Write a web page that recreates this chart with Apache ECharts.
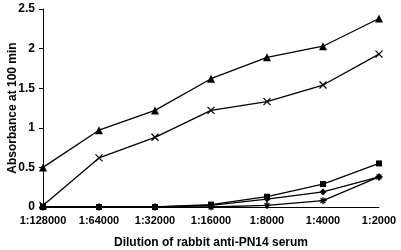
<!DOCTYPE html>
<html>
<head>
<meta charset="utf-8">
<script src="https://cdn.jsdelivr.net/npm/echarts@6/dist/echarts.min.js"></script>
<style>
html, body { margin: 0; padding: 0; background: #fff; }
#chart { width: 401px; height: 250px; }
</style>
</head>
<body>
<div id="chart"></div>
<script>
var dilutions = ['1:128000', '1:64000', '1:32000', '1:16000', '1:8000', '1:4000', '1:2000'];
var triangleData = [0.50, 0.97, 1.22, 1.62, 1.89, 2.03, 2.38];
var crossData = [0.02, 0.62, 0.88, 1.22, 1.33, 1.54, 1.93];
var squareData = [0, 0, 0, 0.03, 0.13, 0.29, 0.55];
var diamondData = [0, 0, 0, 0.02, 0.10, 0.19, 0.38];
var starData = [0, 0, 0, 0, 0.02, 0.08, 0.38];

var font = 'Liberation Sans, Arial, sans-serif';
var crossPath = 'path://M0,0L10,10M10,0L0,10';
var starPath = 'path://M5,0L5,10M0,5L10,5M1.5,1.5L8.5,8.5M8.5,1.5L1.5,8.5';

function makeSeries(data, symbol, size, stroked) {
    return {
        type: 'line',
        data: data,
        symbol: symbol,
        symbolSize: size,
        showAllSymbol: true,
        lineStyle: { color: '#000', width: 1.3 },
        itemStyle: stroked
            ? { color: 'rgba(0,0,0,0)', borderColor: '#000', borderWidth: 1.3 }
            : { color: '#000', borderWidth: 0 },
        animation: false
    };
}

var chart = echarts.init(document.getElementById('chart'));
var option = {
    backgroundColor: '#fff',
    grid: { left: 43, right: 22, top: 9, bottom: 43, outerBoundsMode: 'none', containLabel: false },
    xAxis: {
        type: 'category',
        data: dilutions,
        boundaryGap: false,
        name: 'Dilution of rabbit anti-PN14 serum',
        nameLocation: 'middle',
        nameGap: 30,
        nameMoveOverlap: false,
        nameTextStyle: { color: '#000', fontFamily: font, fontWeight: 'bold', fontSize: 12 },
        axisLine: { lineStyle: { color: '#000', width: 1 } },
        axisTick: { show: false },
        axisLabel: { color: '#000', fontFamily: font, fontWeight: 'bold', fontSize: 11, margin: 8, interval: 0 },
        splitLine: { show: false }
    },
    yAxis: {
        type: 'value',
        min: 0,
        max: 2.5,
        interval: 0.5,
        name: 'Absorbance at 100 min',
        nameLocation: 'middle',
        nameGap: 24,
        nameMoveOverlap: false,
        nameTextStyle: { color: '#000', fontFamily: font, fontWeight: 'bold', fontSize: 12 },
        axisLine: { show: true, lineStyle: { color: '#000', width: 1 } },
        axisTick: { show: true, length: 4, lineStyle: { color: '#000' } },
        axisLabel: { color: '#000', fontFamily: font, fontWeight: 'bold', fontSize: 12, margin: 8 },
        splitLine: { show: false }
    },
    series: [
        makeSeries(triangleData, 'triangle', 8, false),
        makeSeries(crossData, crossPath, 7, true),
        makeSeries(squareData, 'rect', 6, false),
        makeSeries(diamondData, 'diamond', 7, false),
        makeSeries(starData, starPath, 7, true)
    ]
};
chart.setOption(option);
</script>
</body>
</html>
